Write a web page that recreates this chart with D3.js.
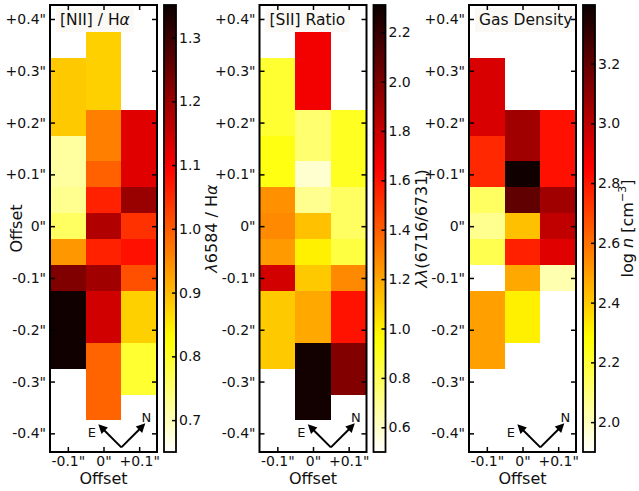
<!DOCTYPE html>
<html><head><meta charset="utf-8">
<script src="https://cdn.jsdelivr.net/npm/d3@7"></script>
<style>body{margin:0;background:#fff} svg{display:block}</style>
</head><body>
<svg id="c" width="639" height="491"></svg>
<script>
// ---------------- data ----------------
const rowCenters = [0.35,0.30,0.25,0.20,0.15,0.10,0.05,0.00,-0.05,-0.10,-0.15,-0.20,-0.25,-0.30,-0.35];
const colCenters = [-0.1, 0, 0.1];

const niiRatio = [
  [null, 0.877, null],
  [0.885, 0.877, null],
  [0.885, 0.877, null],
  [0.885, 0.961, 1.127],
  [0.716, 0.961, 1.127],
  [0.716, 0.994, 1.127],
  [0.728, 1.061, 1.202],
  [0.760, 1.177, 1.044],
  [0.936, 1.061, 1.078],
  [1.228, 1.194, 1.011],
  [1.344, 1.144, 0.877],
  [1.344, 1.144, 0.877],
  [1.344, 0.990, 0.794],
  [null, 0.990, 0.794],
  [null, 0.990, null]
];
const siiRatio = [
  [null, 1.683, null],
  [0.871, 1.683, null],
  [0.871, 1.683, null],
  [0.871, 0.757, 0.899],
  [0.928, 0.757, 0.899],
  [0.928, 0.585, 0.899],
  [1.256, 0.700, 0.784],
  [1.278, 1.126, 0.784],
  [1.234, 0.997, 0.842],
  [1.769, 1.105, 1.278],
  [1.105, 1.191, 1.600],
  [1.105, 1.191, 1.600],
  [1.105, 2.286, 1.985],
  [null, 2.286, 1.985],
  [null, 2.286, null]
];
const gasDensity = [
  [null, null, null],
  [2.937, null, null],
  [2.937, null, null],
  [2.937, 3.062, 2.814],
  [2.760, 3.062, 2.814],
  [2.760, 3.384, 2.814],
  [2.136, 3.205, 3.062],
  [2.066, 2.420, 2.990],
  [2.160, 2.778, 2.919],
  [null, 2.474, 2.018],
  [2.492, 2.313, null],
  [2.492, 2.313, null],
  [2.492, null, null],
  [null, null, null],
  [null, null, null]
];

const yTickValues = [0.4,0.3,0.2,0.1,0,-0.1,-0.2,-0.3,-0.4];
const yTickLabels = ['+0.4"','+0.3"','+0.2"','+0.1"','0"','-0.1"','-0.2"','-0.3"','-0.4"'];
const xTickValues = [-0.1, 0, 0.1];
const xTickLabels = ['-0.1"','0"','+0.1"'];

const panelTitles = ["[NII] / H", "[SII] Ratio", "Gas Density"];
const cbDomains = [[0.65, 1.351], [0.5, 2.31], [1.9, 3.396]];
const cbTicks = [
  [0.7,0.8,0.9,1.0,1.1,1.2,1.3],
  [0.6,0.8,1.0,1.2,1.4,1.6,1.8,2.0,2.2],
  [2.0,2.2,2.4,2.6,2.8,3.0,3.2]
];
const panelData = [niiRatio, siiRatio, gasDensity];

// ---------------- layout ----------------
const FONT = "DejaVu Sans, sans-serif";
const panelLefts = [50, 259.5, 469];
const panelW = 107, topY = 5, bottomY = 452;
const cbGap = 7, cbW = 12;

const svg = d3.select("#c").style("font-family", FONT);

// matplotlib 'hot' colormap, reversed
function hot(s) {
  s = Math.max(0, Math.min(1, s));
  const a = 0.365079, b = 0.746032;
  const r = s < a ? 0.0416 + (1 - 0.0416) * s / a : 1;
  const g = s < a ? 0 : (s < b ? (s - a) / (b - a) : 1);
  const bl = s < b ? 0 : (s - b) / (1 - b);
  return d3.rgb(r * 255, g * 255, bl * 255).formatHex();
}
const hotR = t => hot(1 - t);

const y = d3.scaleLinear().domain([-0.436, 0.427]).range([bottomY, topY]);

// colorbar gradient
const defs = svg.append("defs");
const grad = defs.append("linearGradient").attr("id", "hotr")
  .attr("x1", 0).attr("y1", 1).attr("x2", 0).attr("y2", 0);
d3.range(0, 1.0001, 0.02).forEach(t => {
  grad.append("stop").attr("offset", t).attr("stop-color", hotR(t));
});

panelLefts.forEach((L, pi) => {
  const x = d3.scaleLinear().domain([-0.15, 0.15]).range([L, L + panelW]);
  const [vmin, vmax] = cbDomains[pi];
  const norm = d3.scaleLinear().domain([vmin, vmax]).range([0, 1]).clamp(true);
  const data = panelData[pi];
  const g = svg.append("g");

  // cells
  const cells = [];
  data.forEach((row, ri) => row.forEach((v, ci) => {
    if (v !== null) cells.push({r: rowCenters[ri], c: colCenters[ci], v});
  }));
  g.selectAll("rect.cell").data(cells).join("rect")
    .attr("class", "cell")
    .attr("shape-rendering", "crispEdges")
    .attr("x", d => Math.round(x(d.c - 0.05)))
    .attr("width", d => Math.round(x(d.c + 0.05)) - Math.round(x(d.c - 0.05)))
    .attr("y", d => Math.round(y(d.r + 0.025)))
    .attr("height", d => Math.round(y(d.r - 0.025)) - Math.round(y(d.r + 0.025)))
    .attr("fill", d => hotR(norm(d.v)));

  // title with faint box
  const tt = g.append("text")
    .attr("x", L + 10).attr("y", 25)
    .attr("font-size", 15.5).attr("fill", "#111");
  tt.append("tspan").text(panelTitles[pi]);
  if (pi === 0) tt.append("tspan").attr("font-style", "italic").text("α");
  const bb = tt.node().getBBox();
  g.insert("rect", "text")
    .attr("x", bb.x - 4).attr("y", 8).attr("width", bb.width + 8).attr("height", 24)
    .attr("fill", "#faf7f2").attr("opacity", 0.8);

  // axes
  const ax = (gen, tx, ty) => {
    const a = g.append("g").attr("transform", `translate(${tx},${ty})`).call(gen);
    a.select(".domain").remove();
    a.selectAll("line").attr("stroke", "#000").attr("stroke-width", 1.5);
    a.selectAll("text").attr("font-size", 14).attr("fill", "#111").attr("font-family", FONT);
    return a;
  };
  ax(d3.axisLeft(y).tickValues(yTickValues).tickFormat((d, i) => yTickLabels[i]).tickSize(-5).tickPadding(4), L, 0);
  ax(d3.axisRight(y).tickValues(yTickValues).tickFormat("").tickSize(-5), L + panelW, 0);
  ax(d3.axisBottom(x).tickValues(xTickValues).tickFormat((d, i) => xTickLabels[i]).tickSize(-5).tickPadding(4), 0, bottomY);
  ax(d3.axisTop(x).tickValues(xTickValues).tickFormat("").tickSize(-5), 0, topY);

  // spines
  g.append("rect").attr("x", L).attr("y", topY).attr("width", panelW).attr("height", bottomY - topY)
    .attr("fill", "none").attr("stroke", "#000").attr("stroke-width", 2);

  // x label
  g.append("text").attr("x", L + panelW / 2).attr("y", 484)
    .attr("text-anchor", "middle").attr("font-size", 16).attr("fill", "#111").text("Offset");

  // compass
  const vx = x(0.05), vy = y(-0.427);
  const arm = 23;
  const arrow = (dx, dy) => {
    const ex = vx + dx, ey = vy + dy;
    const len = Math.hypot(dx, dy), ux = dx / len, uy = dy / len;
    const hl = 9, hw = 4.5;
    g.append("line").attr("x1", vx).attr("y1", vy)
      .attr("x2", ex - ux * hl * 0.8).attr("y2", ey - uy * hl * 0.8)
      .attr("stroke", "#000").attr("stroke-width", 2);
    const bx = ex - ux * hl, by = ey - uy * hl;
    g.append("path").attr("d",
      `M${ex},${ey}L${bx - uy * hw},${by + ux * hw}L${bx + uy * hw},${by - ux * hw}Z`)
      .attr("fill", "#000");
  };
  arrow(-arm, -arm);
  arrow(arm + 1, -arm - 1);
  g.append("text").attr("x", vx - 29.5).attr("y", vy - 15.5 + 5).attr("text-anchor", "middle")
    .attr("font-size", 13).attr("fill", "#111").text("E");
  g.append("text").attr("x", vx + 25).attr("y", vy - 30.5 + 5).attr("text-anchor", "middle")
    .attr("font-size", 13).attr("fill", "#111").text("N");

  // colorbar
  const cbL = L + panelW + cbGap, cbR = cbL + cbW;
  const cy = d3.scaleLinear().domain([vmin, vmax]).range([bottomY, topY]);
  g.append("rect").attr("x", cbL).attr("y", topY).attr("width", cbW).attr("height", bottomY - topY)
    .attr("fill", "url(#hotr)");
  ax(d3.axisRight(cy).tickValues(cbTicks[pi]).tickFormat(d3.format(".1f")).tickSize(-4).tickPadding(3), cbR, 0);
  g.append("rect").attr("x", cbL).attr("y", topY).attr("width", cbW).attr("height", bottomY - topY)
    .attr("fill", "none").attr("stroke", "#000").attr("stroke-width", 1.8);

  // colorbar label
  const lx = cbR + (pi === 2 ? 38 : 41);
  const lab = g.append("text").attr("transform", `translate(${lx},${(topY + bottomY) / 2}) rotate(-90)`)
    .attr("text-anchor", "middle").attr("font-size", 16).attr("fill", "#111");
  if (pi === 0) {
    lab.append("tspan").attr("font-style", "italic").text("λ");
    lab.append("tspan").text("6584 / H");
    lab.append("tspan").attr("font-style", "italic").text("α");
  } else if (pi === 1) {
    lab.append("tspan").attr("font-style", "italic").text("λλ");
    lab.append("tspan").text("(6716/6731)");
  } else {
    lab.append("tspan").text("log ");
    lab.append("tspan").attr("font-style", "italic").text("n");
    lab.append("tspan").text(" [cm");
    lab.append("tspan").attr("font-size", 11).attr("dy", -7).text("−3");
    lab.append("tspan").attr("dy", 7).text("]");
  }
});

// y label (first panel only)
svg.append("text").attr("transform", `translate(22,${(topY + bottomY) / 2}) rotate(-90)`)
  .attr("text-anchor", "middle").attr("font-size", 16).attr("fill", "#111").text("Offset");
</script>
</body></html>
